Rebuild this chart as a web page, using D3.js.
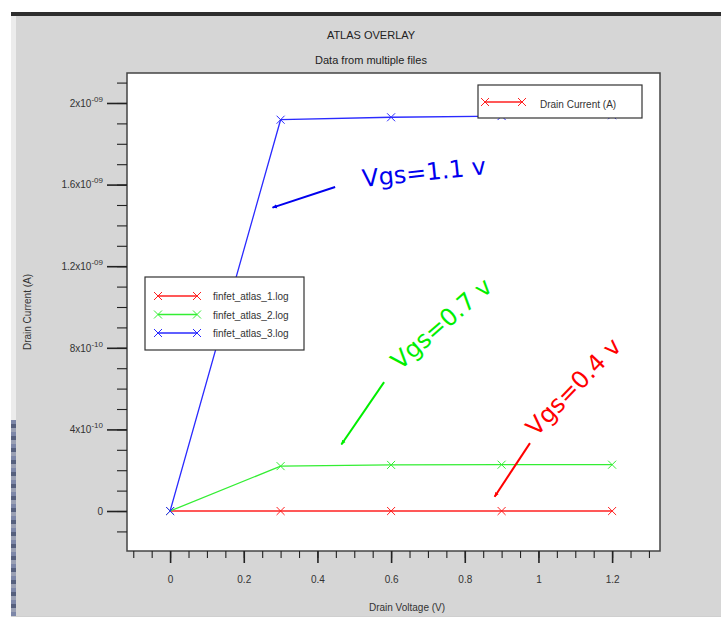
<!DOCTYPE html>
<html>
<head>
<meta charset="utf-8">
<script src="https://cdn.jsdelivr.net/npm/d3@7"></script>
<style>
  html, body { margin: 0; padding: 0; background: #ffffff; }
  svg { display: block; }
</style>
</head>
<body>
<svg id="chart" width="721" height="619"></svg>
<script>
// ---- data ----
const drainVoltage = [0, 0.3, 0.6, 0.9, 1.2];
const seriesNames = ["finfet_atlas_1.log", "finfet_atlas_2.log", "finfet_atlas_3.log"];
const seriesColors = ["#ff2020", "#33ee33", "#2a2aff"];
const current1 = [0, 0, 0, 0, 0];
const current2 = [0, 2.20e-10, 2.26e-10, 2.27e-10, 2.27e-10];
const current3 = [0, 1.918e-9, 1.930e-9, 1.936e-9, 1.940e-9];
const xMajorTicks = [0, 0.2, 0.4, 0.6, 0.8, 1, 1.2];
const yMajorTicks = [0, 4e-10, 8e-10, 1.2e-9, 1.6e-9, 2e-9];
const annotations = [
  { text: "Vgs=1.1 v", color: "#0000ee", x: 0.524, y: 1.588e-9, angle: -6,
    ax1: 0.448, ay1: 1.588e-9, ax2: 0.278, ay2: 1.487e-9 },
  { text: "Vgs=0.7 v", color: "#00ee00", x: 0.624, y: 6.88e-10, angle: -41,
    ax1: 0.581, ay1: 6.32e-10, ax2: 0.465, ay2: 3.26e-10 },
  { text: "Vgs=0.4 v", color: "#ff0000", x: 0.994, y: 3.62e-10, angle: -46,
    ax1: 0.977, ay1: 3.33e-10, ax2: 0.881, ay2: 7.0e-11 }
];

const svg = d3.select("#chart");

// ---- window decoration ----
svg.append("rect").attr("x", 11).attr("y", 16).attr("width", 710).attr("height", 600).attr("fill", "#d6d6d6");
svg.append("rect").attr("x", 11).attr("y", 12).attr("width", 710).attr("height", 4).attr("fill", "#2e2e2e");
svg.append("rect").attr("x", 11).attr("y", 16).attr("width", 5).attr("height", 404).attr("fill", "#ececec");
const stripe = svg.append("g");
for (let i = 0; i < 49; i++) {
  stripe.append("rect").attr("x", 11).attr("y", 420 + i * 4).attr("width", 5).attr("height", 4)
    .attr("fill", i % 3 === 0 ? "#7d87a8" : (i % 3 === 1 ? "#56607e" : "#9aa0b4"));
}
svg.append("rect").attr("x", 11).attr("y", 616).attr("width", 710).attr("height", 1).attr("fill", "#cfcfcf");

// ---- scales ----
const x = d3.scaleLinear().domain([-0.117, 1.33]).range([127, 660]);
const y = d3.scaleLinear().domain([-1.96e-10, 2.147e-9]).range([551, 73]);

// ---- titles ----
svg.append("text").attr("x", 371).attr("y", 39).attr("text-anchor", "middle")
  .attr("font-family", "Liberation Sans, Arial, sans-serif").attr("font-size", 11).attr("fill", "#222")
  .text("ATLAS OVERLAY");
svg.append("text").attr("x", 371).attr("y", 64).attr("text-anchor", "middle")
  .attr("font-family", "Liberation Sans, Arial, sans-serif").attr("font-size", 11).attr("fill", "#222")
  .text("Data from multiple files");

// ---- plot area ----
svg.append("rect").attr("x", x.range()[0]).attr("y", y.range()[1])
  .attr("width", x.range()[1] - x.range()[0]).attr("height", y.range()[0] - y.range()[1])
  .attr("fill", "#ffffff").attr("stroke", "#444").attr("stroke-width", 1.5);

// ---- axes ----
const xMinor = d3.range(-2, 27).map(i => +(i * 0.05).toFixed(2));
const yMinor = d3.range(-1, 22).map(i => +(i * 1e-10).toPrecision(3));

const gxMinor = svg.append("g").attr("transform", `translate(0,${y.range()[0]})`)
  .call(d3.axisBottom(x).tickValues(xMinor).tickSize(7).tickFormat(""));
const gxMajor = svg.append("g").attr("transform", `translate(0,${y.range()[0]})`)
  .call(d3.axisBottom(x).tickValues(xMajorTicks).tickSize(12).tickPadding(13).tickFormat(d => d3.format("~g")(d)));
const gyMinor = svg.append("g").attr("transform", `translate(${x.range()[0]},0)`)
  .call(d3.axisLeft(y).tickValues(yMinor).tickSize(10).tickFormat(""));
const gyMajor = svg.append("g").attr("transform", `translate(${x.range()[0]},0)`)
  .call(d3.axisLeft(y).tickValues(yMajorTicks).tickSize(20).tickPadding(5).tickFormat(""));

[gxMinor, gxMajor, gyMinor, gyMajor].forEach(g => {
  g.select(".domain").remove();
  g.selectAll("line").attr("stroke", "#222");
});
gxMajor.selectAll("line").attr("stroke-width", 1.6);
gyMajor.selectAll("line").attr("stroke-width", 1.6);
gxMinor.selectAll("line").attr("stroke-width", 1.1);
gyMinor.selectAll("line").attr("stroke-width", 1.1);
gxMajor.selectAll("text").attr("font-family", "Liberation Sans, Arial, sans-serif")
  .attr("font-size", 10).attr("fill", "#333");

// y tick labels with superscript exponents
gyMajor.selectAll(".tick").each(function(d) {
  const t = d3.select(this).append("text")
    .attr("x", -24).attr("dy", "0.32em").attr("text-anchor", "end")
    .attr("font-family", "Liberation Sans, Arial, sans-serif").attr("font-size", 10).attr("fill", "#333");
  if (d === 0) { t.text("0"); return; }
  const e = Math.floor(Math.log10(Math.abs(d)) + 1e-9);
  const m = +(d / Math.pow(10, e)).toPrecision(3);
  const es = (e < 0 ? "-" : "") + String(Math.abs(e)).padStart(2, "0");
  t.append("tspan").text(m + "x10");
  t.append("tspan").attr("dy", -5).attr("font-size", 8).text(es);
});

// axis labels
svg.append("text").attr("x", 407).attr("y", 611).attr("text-anchor", "middle")
  .attr("font-family", "Liberation Sans, Arial, sans-serif").attr("font-size", 10).attr("fill", "#333")
  .text("Drain Voltage (V)");
svg.append("text").attr("transform", "translate(31,312) rotate(-90)").attr("text-anchor", "middle")
  .attr("font-family", "Liberation Sans, Arial, sans-serif").attr("font-size", 10).attr("fill", "#333")
  .text("Drain Current (A)");

// ---- series ----
const seriesData = [current1, current2, current3];
const line = d3.line().x(d => x(d[0])).y(d => y(d[1]));
const crossPath = (cx, cy, r) => `M${cx - r},${cy - r}L${cx + r},${cy + r}M${cx - r},${cy + r}L${cx + r},${cy - r}`;

seriesData.forEach((vals, i) => {
  const pts = drainVoltage.map((v, j) => [v, vals[j]]);
  svg.append("path").attr("d", line(pts)).attr("fill", "none")
    .attr("stroke", seriesColors[i]).attr("stroke-width", 1.3);
  svg.append("g").selectAll("path").data(pts).join("path")
    .attr("d", d => crossPath(x(d[0]), y(d[1]), 4))
    .attr("stroke", seriesColors[i]).attr("stroke-width", 1).attr("fill", "none");
});

// ---- legends ----
const legendFont = "Liberation Sans, Arial, sans-serif";
const lg = svg.append("g");
lg.append("rect").attr("x", 145).attr("y", 277).attr("width", 159).attr("height", 73)
  .attr("fill", "#fff").attr("stroke", "#333").attr("stroke-width", 1.2);
seriesNames.forEach((name, i) => {
  const ly = 296 + i * 18.5;
  lg.append("line").attr("x1", 158).attr("x2", 197).attr("y1", ly).attr("y2", ly)
    .attr("stroke", seriesColors[i]).attr("stroke-width", 1.3);
  [158, 197].forEach(cx => lg.append("path").attr("d", crossPath(cx, ly, 4))
    .attr("stroke", seriesColors[i]).attr("fill", "none"));
  lg.append("text").attr("x", 213).attr("y", ly + 4).attr("font-family", legendFont)
    .attr("font-size", 10).attr("fill", "#333").text(name);
});

const lg2 = svg.append("g");
lg2.append("rect").attr("x", 478).attr("y", 85).attr("width", 164).attr("height", 33)
  .attr("fill", "#fff").attr("stroke", "#333").attr("stroke-width", 1.2);
lg2.append("line").attr("x1", 485).attr("x2", 522).attr("y1", 102).attr("y2", 102)
  .attr("stroke", seriesColors[0]).attr("stroke-width", 1.3);
[485, 522].forEach(cx => lg2.append("path").attr("d", crossPath(cx, 102, 4))
  .attr("stroke", seriesColors[0]).attr("fill", "none"));
lg2.append("text").attr("x", 540).attr("y", 108).attr("font-family", legendFont)
  .attr("font-size", 10).attr("fill", "#333").text("Drain Current (A)");

// ---- annotations ----
const defs = svg.append("defs");
annotations.forEach((a, i) => {
  defs.append("marker").attr("id", "arr" + i).attr("viewBox", "0 0 10 10")
    .attr("refX", 9).attr("refY", 5).attr("markerWidth", 5).attr("markerHeight", 5)
    .attr("orient", "auto").attr("markerUnits", "userSpaceOnUse")
    .append("path").attr("d", "M0,1L10,5L0,9Z").attr("fill", a.color);
  svg.append("line").attr("x1", x(a.ax1)).attr("y1", y(a.ay1)).attr("x2", x(a.ax2)).attr("y2", y(a.ay2))
    .attr("stroke", a.color).attr("stroke-width", 2).attr("marker-end", `url(#arr${i})`);
  svg.append("text")
    .attr("transform", `translate(${x(a.x)},${y(a.y)}) rotate(${a.angle})`)
    .attr("font-family", "DejaVu Sans, Verdana, sans-serif").attr("font-size", 24)
    .attr("fill", a.color).text(a.text);
});
</script>
</body>
</html>
